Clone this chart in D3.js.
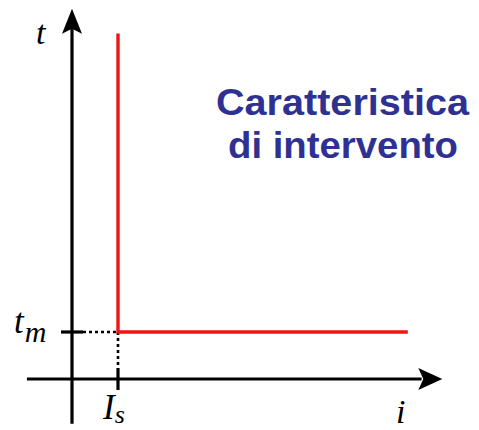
<!DOCTYPE html>
<html>
<head>
<meta charset="utf-8">
<script src="https://cdn.jsdelivr.net/npm/d3@7/dist/d3.min.js"></script>
<style>
  html, body { margin: 0; padding: 0; background: #ffffff; }
  svg { display: block; }
</style>
</head>
<body>
<script>
// Trip characteristic of a protective device: t versus i
const curveCurrent = [1, 1, 7.3];      // i values (Is = 1)
const curveTime    = [7.35, 1, 1];     // t values (tm = 1)
const thresholdCurrent = 1;            // Is
const minTime = 1;                     // tm
const axisLabels = { t: "t", i: "i" };
const titleLines = ["Caratteristica", "di intervento"];

const W = 479, H = 430;
const svg = d3.select("body").append("svg").attr("width", W).attr("height", H);
svg.append("rect").attr("width", W).attr("height", H).attr("fill", "#ffffff");

const x = d3.scaleLinear().domain([0, 8]).range([72, 440]);
const y = d3.scaleLinear().domain([0, 8]).range([379, 3]);

const black = "#000000";
const axisW = 3.2;

// axes
svg.append("line")
  .attr("x1", x(-0.98)).attr("x2", x(7.6))
  .attr("y1", y(0)).attr("y2", y(0))
  .attr("stroke", black).attr("stroke-width", axisW);
svg.append("line")
  .attr("x1", x(0)).attr("x2", x(0))
  .attr("y1", y(-0.95)).attr("y2", y(7.5))
  .attr("stroke", black).attr("stroke-width", axisW);

// arrow heads
const xt = x(8.05), yt = y(0);
svg.append("path")
  .attr("d", `M${xt},${yt} L${xt - 24},${yt - 11} L${xt - 19},${yt} L${xt - 24},${yt + 11} Z`)
  .attr("fill", black);
const vx = x(0), vy = y(7.88);
svg.append("path")
  .attr("d", `M${vx},${vy} L${vx - 10},${vy + 25} L${vx},${vy + 20} L${vx + 10},${vy + 25} Z`)
  .attr("fill", black);

// ticks
svg.append("line")
  .attr("x1", x(0) - 11).attr("x2", x(0) + 11)
  .attr("y1", y(minTime)).attr("y2", y(minTime))
  .attr("stroke", black).attr("stroke-width", axisW);
svg.append("line")
  .attr("x1", x(thresholdCurrent)).attr("x2", x(thresholdCurrent))
  .attr("y1", y(0) - 11).attr("y2", y(0) + 11)
  .attr("stroke", black).attr("stroke-width", axisW);

// dotted guides
svg.append("line")
  .attr("x1", x(0) + 11).attr("x2", x(thresholdCurrent))
  .attr("y1", y(minTime)).attr("y2", y(minTime))
  .attr("stroke", black).attr("stroke-width", 2.6).attr("stroke-dasharray", "3,3");
svg.append("line")
  .attr("x1", x(thresholdCurrent)).attr("x2", x(thresholdCurrent))
  .attr("y1", y(minTime)).attr("y2", y(0) - 11)
  .attr("stroke", black).attr("stroke-width", 2.6).attr("stroke-dasharray", "3,3");

// characteristic curve
const pts = curveCurrent.map((c, k) => [c, curveTime[k]]);
svg.append("path")
  .attr("d", d3.line().x(d => x(d[0])).y(d => y(d[1]))(pts))
  .attr("fill", "none").attr("stroke", "#f01414").attr("stroke-width", 3.4);

// math labels
const serif = "'Liberation Serif', 'Times New Roman', serif";
function mathLabel(px, py, main, sub, size, subSize, dx, dy) {
  const t = svg.append("text")
    .attr("x", px).attr("y", py)
    .attr("font-family", serif).attr("font-style", "italic")
    .attr("font-size", size).attr("fill", black);
  t.append("tspan").text(main);
  if (sub) {
    t.append("tspan").attr("dx", dx).attr("dy", dy)
      .attr("font-size", subSize).text(sub);
  }
}
mathLabel(36, 44, axisLabels.t, null, 34);
mathLabel(396, 423, axisLabels.i, null, 34);
mathLabel(14, 333, "t", "m", 35, 30, 1, 9);
mathLabel(103, 419, "I", "s", 35, 26, 0, 4);

// title
const sans = "'Liberation Sans', Arial, sans-serif";
svg.append("text")
  .attr("x", 216).attr("y", 115)
  .attr("font-family", sans).attr("font-weight", "bold")
  .attr("font-size", 36).attr("fill", "#2e3192")
  .attr("textLength", 253).attr("lengthAdjust", "spacingAndGlyphs")
  .text(titleLines[0]);
svg.append("text")
  .attr("x", 228).attr("y", 158)
  .attr("font-family", sans).attr("font-weight", "bold")
  .attr("font-size", 36).attr("fill", "#2e3192")
  .attr("textLength", 230).attr("lengthAdjust", "spacingAndGlyphs")
  .text(titleLines[1]);
</script>
</body>
</html>
